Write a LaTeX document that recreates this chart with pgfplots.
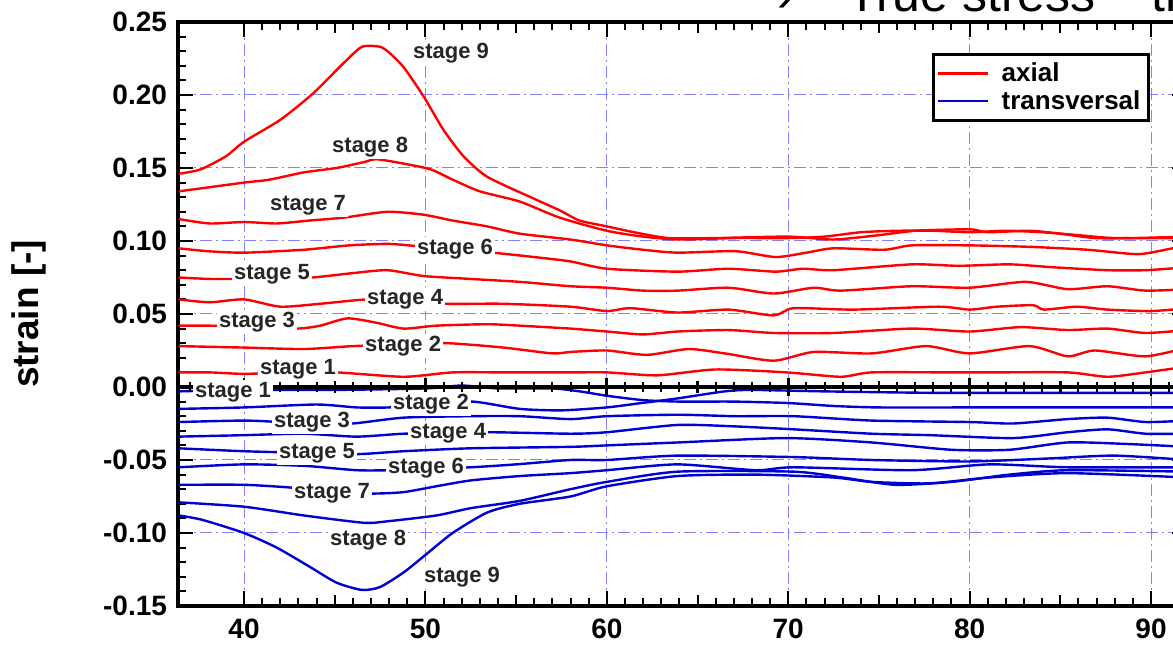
\documentclass[border=0pt]{standalone}
\usepackage{pgfplots}
\pgfplotsset{compat=1.18}
\usepackage{fontspec}
\setmainfont{Liberation Sans}
\definecolor{axred}{RGB}{255,0,0}
\definecolor{trblue}{RGB}{0,0,210}
\definecolor{gridblue}{RGB}{130,130,255}

\begin{document}
\begin{tikzpicture}
% page = 1173 x 646 px at 0.5pt per px
\path[use as bounding box] (0pt,0pt) rectangle (586.5pt,323pt);
\clip (0pt,0pt) rectangle (586.5pt,323pt);

% slide title, cut at the top and at the right
\node[anchor=base west, inner sep=0pt, font=\fontsize{25}{30}\selectfont] at (388.5pt,317pt) {›};
\node[anchor=base west, inner sep=0pt, font=\fontsize{25}{30}\selectfont] at (423.5pt,317pt) {True stress – true strain};

\node[rotate=90, inner sep=0pt, font=\bfseries\fontsize{18.5}{22}\selectfont] at (14.5pt,166pt) {strain [-]};

\begin{axis}[
  at={(89pt,20pt)}, anchor=south west,
  scale only axis, width=504.65pt, height=292pt,
  xmin=36.36, xmax=92, ymin=-0.15, ymax=0.25,
  xtick={40,50,...,90},
  ytick={-0.15,-0.10,-0.05,0,0.05,0.10,0.15,0.20,0.25},
  minor x tick num=9, minor y tick num=4,
  extra x ticks={45,55,65,75,85}, extra x tick labels={},
  extra x tick style={xmajorgrids=false, major tick length=5.5pt},
  grid=major,
  major grid style={gridblue, line width=0.5pt, dash pattern=on 6pt off 2pt on 1pt off 2pt},
  axis line style={line width=1.6pt},
  tick style={black, line width=1pt},
  major tick length=7.5pt, minor tick length=4pt,
  tick align=inside,
  /pgf/number format/assume math mode=true,
  ticklabel style={font=\bfseries\fontsize{14}{16}\selectfont},
  yticklabel style={/pgf/number format/.cd, fixed, fixed zerofill, precision=2, /tikz/.cd, xshift=-2pt},
  xticklabel style={yshift=-3pt},
  legend style={at={(0.963,0.947)}, anchor=north east, draw=black, line width=1.5pt,
    font=\bfseries\fontsize{13}{14}\selectfont, inner sep=2pt, row sep=-1pt},
  legend cell align=left,
  legend image code/.code={\draw[#1, line width=1.2pt] (0pt,0pt) -- (25pt,0pt); \path (29pt,0pt);},
  every axis plot/.append style={line width=1.2pt, smooth, tension=0.4, line join=round},
]

% ---- axial (red) ----
\addplot[axred] coordinates {
(36.4,0.010) (38.1,0.010) (40,0.009) (42.5,0.010) (45.1,0.010) (48.8,0.007) (51.5,0.010) (54.3,0.010) (58,0.010) (60,0.010) (62.8,0.008) (66,0.012) (69.9,0.010) (72.9,0.007) (74.6,0.010) (79,0.010) (81.1,0.010) (85.4,0.010) (87.6,0.007) (89.7,0.010) (92,0.014)
};
\addlegendentry{axial}
\addplot[axred, forget plot] coordinates {
(36.4,0.028) (40,0.027) (43.3,0.026) (46,0.028) (48.5,0.029) (51.2,0.030) (54.3,0.027) (57,0.023) (58,0.024) (60,0.025) (62.2,0.022) (64.5,0.026) (66.5,0.023) (69.2,0.018) (71.4,0.024) (74.6,0.023) (77.6,0.028) (80,0.023) (83.3,0.028) (85.4,0.021) (86.9,0.025) (89.7,0.021) (92,0.027)
};
\addplot[axred, forget plot] coordinates {
(36.4,0.042) (38.1,0.042) (40,0.041) (42.9,0.040) (44.2,0.042) (45.7,0.047) (47.3,0.044) (48.8,0.040) (50.6,0.042) (53.4,0.043) (55.2,0.042) (58,0.040) (60,0.038) (62,0.036) (63.9,0.038) (66.7,0.039) (69.2,0.037) (72.5,0.037) (76.8,0.040) (80,0.038) (82.8,0.041) (85.4,0.039) (87.6,0.040) (89.7,0.037) (92,0.039)
};
\addplot[axred, forget plot] coordinates {
(36.4,0.060) (38.1,0.058) (40,0.060) (42,0.055) (44.2,0.057) (46.8,0.060) (49,0.059) (51.2,0.057) (54.3,0.057) (58,0.055) (60,0.052) (61.3,0.054) (63.9,0.051) (66.7,0.053) (69.2,0.049) (70.3,0.054) (73.6,0.053) (78.3,0.055) (80,0.053) (81.5,0.055) (83.5,0.056) (84.1,0.053) (85.9,0.055) (87.6,0.053) (90,0.052) (92,0.054)
};
\addplot[axred, forget plot] coordinates {
(36.4,0.075) (38.1,0.074) (40,0.074) (42,0.074) (43.8,0.075) (46,0.078) (47.9,0.080) (49.9,0.076) (52.5,0.074) (55.2,0.072) (58,0.069) (60,0.068) (62,0.066) (63.9,0.066) (66.7,0.068) (69.2,0.064) (71.4,0.068) (72.9,0.066) (76.8,0.069) (80,0.068) (83.1,0.072) (85.4,0.067) (87.6,0.069) (89.7,0.066) (92,0.067)
};
\addplot[axred, forget plot] coordinates {
(36.4,0.095) (38,0.093) (40,0.092) (43.3,0.094) (45.8,0.097) (48,0.098) (49.9,0.096) (51.5,0.094) (53.7,0.092) (56,0.089) (58,0.086) (60,0.081) (63.9,0.079) (66.7,0.081) (69.3,0.079) (70.8,0.081) (72.5,0.080) (76.8,0.084) (79.4,0.083) (82.2,0.084) (84.6,0.082) (87.6,0.080) (89.7,0.080) (92,0.082)
};
\addplot[axred, forget plot] coordinates {
(36.4,0.115) (38.1,0.112) (40,0.113) (41.8,0.112) (43.6,0.114) (45.5,0.116) (47.9,0.120) (49.9,0.118) (51.5,0.114) (53.4,0.110) (55.2,0.105) (58,0.101) (60,0.097) (62,0.094) (63.9,0.092) (67.1,0.093) (69.3,0.089) (71,0.092) (72.5,0.095) (75.3,0.094) (76.8,0.097) (80,0.097) (83.3,0.096) (86.5,0.094) (89.3,0.091) (91.2,0.095) (92,0.096)
};
\addplot[axred, forget plot] coordinates {
(36.4,0.134) (37.6,0.136) (40,0.140) (41.4,0.142) (43.3,0.147) (45.1,0.150) (46.6,0.154) (47.3,0.156) (48.8,0.153) (50.3,0.149) (51.5,0.142) (53,0.134) (55.2,0.127) (57.4,0.116) (60,0.107) (62,0.103) (64,0.101) (67,0.102) (70,0.102) (72,0.103) (74,0.106) (76,0.107) (78,0.107) (80,0.106) (82,0.107) (84,0.106) (86,0.104) (88,0.102) (92,0.102)
};
\addplot[axred, forget plot] coordinates {
(36.4,0.146) (37.6,0.149) (39,0.158) (40,0.168) (42,0.183) (43.8,0.201) (45.5,0.222) (46.5,0.233) (47.5,0.233) (48,0.229) (48.8,0.219) (49.9,0.199) (51,0.176) (52.1,0.158) (53.4,0.144) (55.8,0.130) (57.4,0.121) (58.5,0.114) (60,0.110) (61.5,0.106) (63.4,0.102) (66,0.102) (70,0.103) (72.5,0.101) (75,0.104) (77,0.107) (80,0.108) (81,0.106) (83.3,0.107) (85,0.105) (86.9,0.102) (89,0.102) (92,0.103)
};

% ---- transversal (blue) ----
\addplot[trblue] coordinates {
(36.4,-0.003) (40,-0.002) (45,-0.002) (50,-0.001) (52,0.001) (54,-0.001) (57,-0.001) (58.5,-0.003) (60,-0.006) (62,-0.009) (64,-0.010) (67,-0.010) (70,-0.011) (72.5,-0.013) (75,-0.014) (80,-0.014) (85,-0.014) (92,-0.014)
};
\addlegendentry{transversal}
\addplot[trblue, forget plot] coordinates {
(36.4,-0.015) (40,-0.014) (44,-0.012) (46.2,-0.014) (48,-0.014) (50,-0.012) (52.6,-0.010) (55.2,-0.015) (57.5,-0.016) (60,-0.014) (61.9,-0.011) (63.8,-0.008) (66.5,-0.003) (68,-0.002) (72,-0.003) (78,-0.004) (85,-0.004) (92,-0.004)
};
\addplot[trblue, forget plot] coordinates {
(36.4,-0.024) (40,-0.023) (42,-0.024) (44,-0.025) (46,-0.025) (48.8,-0.021) (52.5,-0.020) (55.2,-0.020) (58,-0.022) (60,-0.020) (63.9,-0.019) (67.1,-0.020) (70.3,-0.020) (74.6,-0.023) (80,-0.024) (82.4,-0.025) (85.4,-0.022) (87.6,-0.021) (89.7,-0.024) (92,-0.023)
};
\addplot[trblue, forget plot] coordinates {
(36.4,-0.034) (40,-0.033) (43.3,-0.032) (46.2,-0.034) (48.8,-0.032) (51,-0.032) (53.6,-0.031) (58,-0.032) (60,-0.031) (63.9,-0.026) (67.1,-0.027) (70.3,-0.029) (74.6,-0.032) (77.8,-0.033) (82.4,-0.035) (85.4,-0.031) (87.6,-0.029) (89.7,-0.032) (92,-0.032)
};
\addplot[trblue, forget plot] coordinates {
(36.4,-0.042) (40,-0.044) (43,-0.045) (46.2,-0.046) (48.8,-0.044) (52.5,-0.042) (58,-0.041) (60,-0.040) (63.9,-0.038) (69.9,-0.035) (74.6,-0.038) (79,-0.043) (82.2,-0.043) (85.4,-0.038) (88.6,-0.039) (92,-0.041)
};
\addplot[trblue, forget plot] coordinates {
(36.4,-0.055) (40,-0.053) (43.3,-0.054) (46.2,-0.057) (48,-0.057) (50,-0.056) (52.5,-0.055) (55,-0.053) (58,-0.050) (60,-0.050) (63.9,-0.047) (70.3,-0.048) (74.6,-0.050) (80,-0.051) (84.3,-0.049) (88,-0.047) (92,-0.050)
};
\addplot[trblue, forget plot] coordinates {
(36.4,-0.067) (40,-0.067) (42.7,-0.069) (45,-0.072) (47.1,-0.073) (48.8,-0.072) (50.6,-0.068) (52.5,-0.064) (55.2,-0.061) (58,-0.059) (60,-0.057) (63.9,-0.053) (68.2,-0.057) (70.3,-0.055) (76.8,-0.057) (81.1,-0.053) (85.4,-0.055) (92,-0.055)
};
\addplot[trblue, forget plot] coordinates {
(36.4,-0.079) (40,-0.082) (43.3,-0.088) (46.6,-0.093) (47.9,-0.092) (50.6,-0.088) (52.5,-0.083) (55.2,-0.078) (58,-0.070) (60,-0.065) (63.9,-0.058) (70.3,-0.058) (73,-0.062) (75.9,-0.067) (79,-0.065) (82.2,-0.060) (85.4,-0.057) (92,-0.058)
};
\addplot[trblue, forget plot] coordinates {
(36.4,-0.088) (37.7,-0.091) (40,-0.100) (41.8,-0.110) (43.6,-0.123) (45.1,-0.134) (46.5,-0.139) (47.5,-0.137) (48.8,-0.127) (50.1,-0.114) (51.5,-0.100) (53.4,-0.086) (55.2,-0.080) (58,-0.075) (60,-0.068) (63.9,-0.061) (68.2,-0.060) (72.5,-0.062) (74.6,-0.065) (77.8,-0.066) (81.1,-0.062) (85.4,-0.059) (92,-0.062)
};

% zero line with its own ticks
\draw[line width=1.6pt] (axis cs:36.36,0) -- (axis cs:92,0);
\pgfplotsinvokeforeach{37,...,91}{\draw[line width=1pt] ([yshift=-2.5pt]axis cs:#1,0) -- ([yshift=2.5pt]axis cs:#1,0);}
\pgfplotsinvokeforeach{45,55,65,75,85}{\draw[line width=1.2pt] ([yshift=-3.2pt]axis cs:#1,0) -- ([yshift=3.2pt]axis cs:#1,0);}
\pgfplotsinvokeforeach{40,50,60,70,80,90}{\draw[line width=1.4pt] ([yshift=-4.3pt]axis cs:#1,0) -- ([yshift=4.3pt]axis cs:#1,0);}

% stage labels
\tikzset{stg/.style={fill=white, inner sep=1pt, text=black!85, font=\bfseries\fontsize{11}{13}\selectfont}}
\node[stg] at (axis cs:51.41,0.2288) {stage 9};
\node[stg] at (axis cs:46.95,0.1644) {stage 8};
\node[stg] at (axis cs:43.53,0.1247) {stage 7};
\node[stg] at (axis cs:51.63,0.0945) {stage 6};
\node[stg] at (axis cs:41.54,0.0774) {stage 5};
\node[stg] at (axis cs:48.88,0.0603) {stage 4};
\node[stg] at (axis cs:40.72,0.0445) {stage 3};
\node[stg] at (axis cs:48.77,0.0281) {stage 2};
\node[stg] at (axis cs:42.98,0.0123) {stage 1};
\node[stg] at (axis cs:39.39,-0.0034) {stage 1};
\node[stg] at (axis cs:50.31,-0.0116) {stage 2};
\node[stg] at (axis cs:43.75,-0.0240) {stage 3};
\node[stg] at (axis cs:51.25,-0.0315) {stage 4};
\node[stg] at (axis cs:44.02,-0.0452) {stage 5};
\node[stg] at (axis cs:50.03,-0.0555) {stage 6};
\node[stg] at (axis cs:44.85,-0.0726) {stage 7};
\node[stg] at (axis cs:46.84,-0.1048) {stage 8};
\node[stg] at (axis cs:52.02,-0.1301) {stage 9};
\end{axis}
\end{tikzpicture}
\end{document}
